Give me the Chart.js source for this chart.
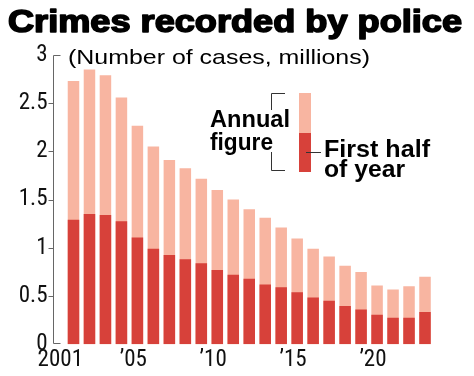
<!DOCTYPE html>
<html>
<head>
<meta charset="utf-8">
<script src="https://cdn.jsdelivr.net/npm/chart.js@4"></script>
<style>
html,body{margin:0;padding:0;background:#fff;}
#wrap{width:474px;height:376px;position:relative;}
</style>
</head>
<body>
<div id="wrap"><canvas id="c" width="474" height="376"></canvas></div>
<script>
const years = ['2001','2002','2003','2004','2005','2006','2007','2008','2009','2010','2011','2012','2013','2014','2015','2016','2017','2018','2019','2020','2021','2022','2023'];
const annualFigure = [2.73,2.85,2.79,2.56,2.265,2.05,1.91,1.825,1.715,1.60,1.50,1.40,1.313,1.21,1.097,0.99,0.91,0.815,0.75,0.61,0.567,0.60,0.70];
const firstHalf = [1.29,1.35,1.34,1.275,1.107,0.99,0.925,0.88,0.84,0.77,0.72,0.68,0.62,0.59,0.54,0.485,0.45,0.395,0.36,0.305,0.275,0.275,0.335];
const yTickValues = [0,0.5,1,1.5,2,2.5,3];
const xTickLabels = {'2001':'2001','2005':'\u201905','2010':'\u201910','2015':'\u201915','2020':'\u201920'};

const LIGHT = '#F8B5A1';
const RED = '#D7413A';
const AXIS = '#666';
const NARROW = "'Roboto Condensed','Liberation Sans Narrow','Arial Narrow','Liberation Sans',Arial,sans-serif";
const SANS = "'Liberation Sans',Arial,Helvetica,sans-serif";

function fitText(ctx, text, font, x, y, targetW, stroke) {
  ctx.save();
  ctx.font = font;
  ctx.textBaseline = 'alphabetic';
  ctx.textAlign = 'left';
  const w = ctx.measureText(text).width;
  ctx.translate(x, y);
  ctx.scale(targetW / w, 1);
  ctx.fillStyle = '#000';
  ctx.fillText(text, 0, 0);
  if (stroke) { ctx.strokeStyle = '#000'; ctx.lineWidth = stroke; ctx.lineJoin='round'; ctx.strokeText(text, 0, 0); }
  ctx.restore();
}

const decor = {
  id: 'decor',
  afterDraw(chart) {
    const ctx = chart.ctx;
    const y = chart.scales.y;
    const ax = 53.5;
    ctx.save();
    ctx.strokeStyle = AXIS;
    ctx.lineWidth = 1;
    ctx.beginPath();
    const top = Math.round(y.getPixelForValue(3)) + 0.5;
    const bot = Math.round(y.getPixelForValue(0)) - 0.5;
    ctx.moveTo(ax, top); ctx.lineTo(ax, bot);
    ctx.moveTo(ax, top); ctx.lineTo(ax + 7, top);
    ctx.moveTo(ax, bot); ctx.lineTo(ax + 7, bot);
    yTickValues.forEach(v => {
      if (v === 0 || v === 3) return;
      const py = Math.round(y.getPixelForValue(v)) + 0.5;
      ctx.moveTo(ax - 5, py); ctx.lineTo(ax, py);
    });
    ctx.stroke();
    ctx.restore();

    // Title & subtitle
    fitText(ctx, 'Crimes recorded by police', 'bold 31px ' + SANS, 8, 32, 454, 1.6);
    fitText(ctx, '(Number of cases, millions)', '21px ' + SANS, 68, 63.5, 302);

    // Legend
    ctx.save();
    ctx.fillStyle = LIGHT;
    ctx.fillRect(299, 93, 12, 40);
    ctx.fillStyle = RED;
    ctx.fillRect(299, 133, 12, 39);
    ctx.strokeStyle = '#333';
    ctx.lineWidth = 1;
    ctx.beginPath();
    ctx.moveTo(285, 93.5); ctx.lineTo(271.5, 93.5); ctx.lineTo(271.5, 110);
    ctx.moveTo(271.5, 152); ctx.lineTo(271.5, 170.5); ctx.lineTo(285, 170.5);
    ctx.moveTo(306, 152.5); ctx.lineTo(321, 152.5);
    ctx.stroke();
    ctx.restore();
    fitText(ctx, 'Annual', 'bold 23px ' + SANS, 210, 126.5, 80);
    fitText(ctx, 'figure', 'bold 23px ' + SANS, 210, 150, 63);
    fitText(ctx, 'First half', 'bold 23px ' + SANS, 324, 157, 106);
    fitText(ctx, 'of year', 'bold 23px ' + SANS, 324, 177, 81);
  }
};

new Chart(document.getElementById('c'), {
  type: 'bar',
  data: {
    labels: years,
    datasets: [
      { label: 'First half of year', data: firstHalf, backgroundColor: RED, order: 1, grouped: false,
        barPercentage: 0.72, categoryPercentage: 1 },
      { label: 'Annual figure', data: annualFigure, backgroundColor: LIGHT, order: 2, grouped: false,
        barPercentage: 0.72, categoryPercentage: 1 }
    ]
  },
  options: {
    responsive: false,
    animation: false,
    layout: { padding: { top: 55, left: 0, right: 41, bottom: 0 } },
    plugins: { legend: { display: false }, tooltip: { enabled: false }, title: { display: false } },
    scales: {
      x: {
        grid: { display: false, drawTicks: false },
        border: { display: false },
        afterFit(s) { s.height = 30; },
        ticks: {
          autoSkip: false, maxRotation: 0, minRotation: 0, padding: 2,
          align: 'end', labelOffset: 9.5,
          color: '#111', font: { family: NARROW, size: 23 },
          callback(v, i) { return xTickLabels[years[i]] || ''; }
        }
      },
      y: {
        min: 0, max: 3,
        grid: { display: false, drawTicks: false },
        border: { display: false },
        afterFit(s) { s.width = 65.5; },
        afterBuildTicks(s) { s.ticks = yTickValues.map(v => ({ value: v })); },
        ticks: {
          padding: 18, color: '#111', font: { family: NARROW, size: 23 },
          callback(v) { return String(v); }
        }
      }
    }
  },
  plugins: [decor]
});
</script>
</body>
</html>
